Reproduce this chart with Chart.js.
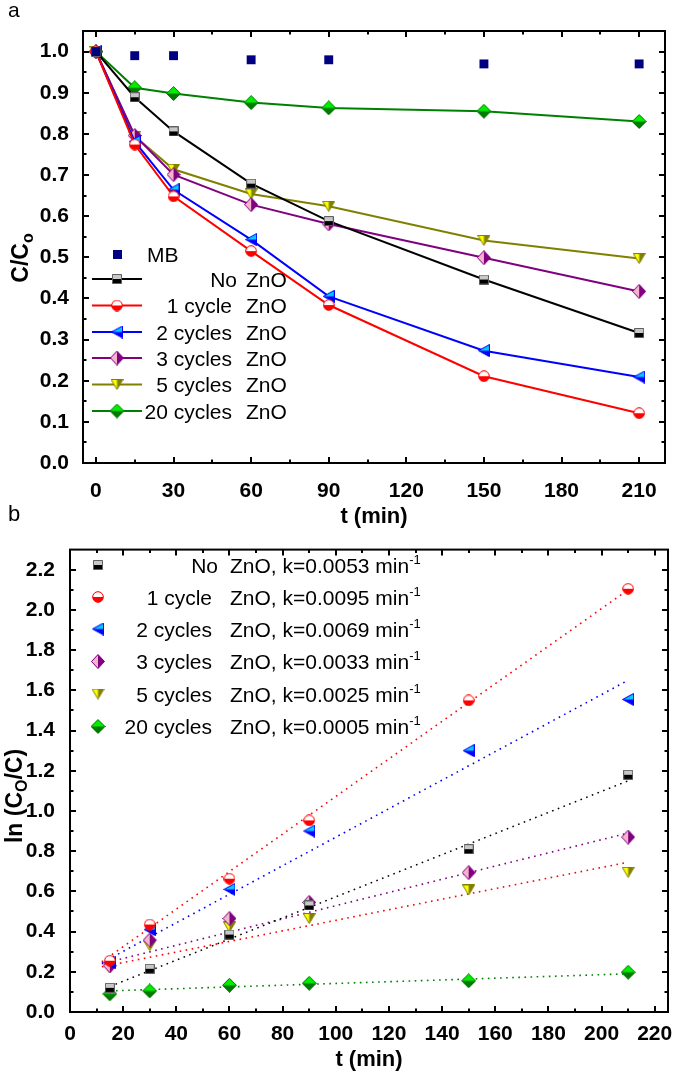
<!DOCTYPE html>
<html lang="en">
<head>
<meta charset="UTF-8">
<title>C/Co and ln(Co/C) vs time</title>
<script src="https://cdn.jsdelivr.net/npm/chart.js"></script>
<style>
  body { margin: 0; background: #fff; width: 675px; height: 1082px; position: relative; overflow: hidden; }
  canvas { position: absolute; left: 0; }
  #chartA { top: 0; }
  #chartB { top: 530px; }
  .panel { position: absolute; left: 8px; line-height: 1; font-family: "Liberation Sans", Arial, sans-serif; z-index: 2; }
</style>
</head>
<body>
<canvas id="chartA" width="675" height="530"></canvas>
<canvas id="chartB" width="675" height="552"></canvas>
<div class="panel" style="top:-1px; font-size:21px;">a</div>
<div class="panel" style="top:503px; font-size:22px;">b</div>
<script>
// ---- panel a : C/Co vs t ----
const tA = [0, 15, 30, 60, 90, 150, 210];
const mbA = [1.0, 0.99, 0.99, 0.98, 0.98, 0.97, 0.97];
const noA = [1.0, 0.889, 0.806, 0.679, 0.588, 0.446, 0.316];
const c1A = [1.0, 0.774, 0.648, 0.515, 0.384, 0.211, 0.121];
const c2A = [1.0, 0.781, 0.664, 0.543, 0.405, 0.273, 0.209];
const c3A = [1.0, 0.796, 0.701, 0.628, 0.581, 0.499, 0.417];
const c5A = [1.0, 0.794, 0.714, 0.654, 0.624, 0.541, 0.497];
const c20A = [1.0, 0.912, 0.898, 0.876, 0.863, 0.855, 0.830];
const xTicksA = [0, 30, 60, 90, 120, 150, 180, 210];
const yTicksA = [0, 0.1, 0.2, 0.3, 0.4, 0.5, 0.6, 0.7, 0.8, 0.9, 1.0];

// ---- panel b : ln(Co/C) vs t ----
const tB = [15, 30, 60, 90, 150, 210];
const noB = [0.12, 0.215, 0.385, 0.53, 0.81, 1.18];
const c1B = [0.255, 0.435, 0.663, 0.953, 1.55, 2.105];
const c2B = [0.245, 0.41, 0.61, 0.90, 1.30, 1.555];
const c3B = [0.23, 0.358, 0.465, 0.545, 0.693, 0.87];
const c5B = [0.22, 0.33, 0.423, 0.465, 0.607, 0.695];
const c20B = [0.09, 0.105, 0.133, 0.143, 0.155, 0.198];
// linear fits: start time, value at start, value at 210 min
const fitFrom = [15, 12, 12, 12, 12, 15];
const fitLo = [0.127, 0.25, 0.245, 0.24, 0.225, 0.105];
const fitHi = [1.15, 2.10, 1.65, 0.89, 0.745, 0.19];
const fitTo = 210;
const kVals = ['0.0053', '0.0095', '0.0069', '0.0033', '0.0025', '0.0005'];
const xTicksB = [0, 20, 40, 60, 80, 100, 120, 140, 160, 180, 200, 220];
const yTicksB = [0, 0.2, 0.4, 0.6, 0.8, 1.0, 1.2, 1.4, 1.6, 1.8, 2.0, 2.2];

const names = ['No', '1 cycle', '2 cycles', '3 cycles', '5 cycles', '20 cycles'];
const lineColors = ['#000000', '#ff0000', '#0000ff', '#800080', '#808000', '#008000'];
const fitColors = ['#000000', '#ff0000', '#0000ff', '#800080', '#ff0000', '#008000'];

const FONT = '"Liberation Sans", Arial, sans-serif';
Chart.defaults.font.family = FONT;
Chart.defaults.color = '#000';

function pts(xs, ys) { return xs.map((x, i) => ({ x: x, y: ys[i] })); }

// two-tone marker drawn on a small canvas, used as a pointStyle
function makeMarker(shape, w, h, light, dark, edge, split) {
    const c = document.createElement('canvas');
    c.width = w; c.height = h;
    const g = c.getContext('2d');
    const mx = w / 2, my = h / 2;
    g.beginPath();
    if (shape === 'square') g.rect(0.5, 0.5, w - 1, h - 1);
    else if (shape === 'circle') g.arc(mx, my, mx - 0.7, 0, Math.PI * 2);
    else if (shape === 'left') { g.moveTo(0.5, my); g.lineTo(w - 0.5, 0.5); g.lineTo(w - 0.5, h - 0.5); g.closePath(); }
    else if (shape === 'down') { g.moveTo(0.5, 0.5); g.lineTo(w - 0.5, 0.5); g.lineTo(mx, h - 0.5); g.closePath(); }
    else { g.moveTo(mx, 0.5); g.lineTo(w - 0.5, my); g.lineTo(mx, h - 0.5); g.lineTo(0.5, my); g.closePath(); }
    g.save();
    g.clip();
    g.fillStyle = dark;
    g.fillRect(0, 0, w, h);
    g.fillStyle = light;
    if (split === 'top') g.fillRect(0, 0, w, my); else g.fillRect(0, 0, mx, h);
    g.restore();
    g.strokeStyle = edge;
    g.lineWidth = 1;
    g.stroke();
    return c;
}

const markers = [
    makeMarker('square', 10, 10, '#c8c8c8', '#000000', '#606060', 'top'),
    makeMarker('circle', 12, 12, '#ffffff', '#ff0000', '#ff0000', 'top'),
    makeMarker('left', 12, 13, '#00ccff', '#0000ff', '#0000ff', 'top'),
    makeMarker('diamond', 14, 15, '#f4b4cc', '#800080', '#800080', 'left'),
    makeMarker('down', 13, 11, '#ffff00', '#808000', '#808000', 'left'),
    makeMarker('diamond', 15, 15, '#00ee00', '#007a00', '#007a00', 'top')
];

// frame with inward major/minor ticks on all four sides
const framePlugin = {
    id: 'frame',
    afterDatasetsDraw(chart) {
        const { ctx, chartArea: a, scales: { x, y } } = chart;
        ctx.save();
        ctx.strokeStyle = '#000';
        ctx.lineWidth = 2;
        ctx.beginPath();
        const xt = x.ticks.map(t => t.value);
        const yt = y.ticks.map(t => t.value);
        const mids = v => v.slice(1).map((t, i) => (t + v[i]) / 2);
        const tickX = (vals, len) => vals.forEach(v => {
            const p = Math.round(x.getPixelForValue(v));
            if (p <= a.left + 1 || p >= a.right - 1) return;
            ctx.moveTo(p, a.bottom); ctx.lineTo(p, a.bottom - len);
            ctx.moveTo(p, a.top); ctx.lineTo(p, a.top + len);
        });
        const tickY = (vals, len) => vals.forEach(v => {
            const p = Math.round(y.getPixelForValue(v));
            if (p <= a.top + 1 || p >= a.bottom - 1) return;
            ctx.moveTo(a.left, p); ctx.lineTo(a.left + len, p);
            ctx.moveTo(a.right, p); ctx.lineTo(a.right - len, p);
        });
        tickX(xt, 6); tickX(mids(xt), 3.5);
        tickY(yt, 6); tickY(mids(yt), 3.5);
        ctx.stroke();
        ctx.strokeRect(a.left, a.top, a.right - a.left, a.bottom - a.top);
        ctx.restore();
    }
};

function richText(ctx, parts, x, y, align) {
    let w = 0;
    parts.forEach(p => { ctx.font = `${p[3] || 'bold'} ${p[1]}px ${FONT}`; w += ctx.measureText(p[0]).width; });
    let cx = align === 'center' ? x - w / 2 : align === 'right' ? x - w : x;
    ctx.textAlign = 'left';
    ctx.textBaseline = 'alphabetic';
    parts.forEach(p => {
        ctx.font = `${p[3] || 'bold'} ${p[1]}px ${FONT}`;
        ctx.fillText(p[0], cx, y + p[2]);
        cx += ctx.measureText(p[0]).width;
    });
}

function axisTitles(ctx, chart, xGap, yParts, yLeft, yCenter) {
    const a = chart.chartArea;
    ctx.save();
    ctx.fillStyle = '#000';
    richText(ctx, [['t (min)', 22, 0]], (a.left + a.right) / 2, a.bottom + xGap, 'center');
    ctx.translate(yLeft, yCenter);
    ctx.rotate(-Math.PI / 2);
    richText(ctx, yParts, 0, 0, 'center');
    ctx.restore();
}

function scaleOpts(min, max, tickVals, fmt, size, pad) {
    return {
        type: 'linear', min: min, max: max,
        grid: { display: false },
        border: { display: false },
        afterBuildTicks: s => { s.ticks = tickVals.map(v => ({ value: v })); },
        afterFit: s => { if (s.isHorizontal()) s.height = size; else s.width = size; },
        ticks: { padding: pad, color: '#000', font: { size: 21, weight: 'bold' }, callback: fmt }
    };
}

// ---------- chart a ----------
const dsA = [{
    label: 'MB', data: pts(tA, mbA), showLine: false,
    pointStyle: 'rect', pointRadius: 6.3, backgroundColor: '#000080', borderColor: '#000080', borderWidth: 0
}];
[noA, c1A, c2A, c3A, c5A, c20A].forEach((s, i) => dsA.push({
    label: names[i] + ' ZnO', data: pts(tA, s), showLine: true,
    borderColor: lineColors[i], borderWidth: 2, pointStyle: markers[i], pointRadius: 6
}));

new Chart(document.getElementById('chartA'), {
    type: 'scatter',
    data: { datasets: dsA },
    options: {
        responsive: false,
        animation: false,
        layout: { padding: { top: 31, right: 10, left: 0, bottom: 0 } },
        plugins: { legend: { display: false }, tooltip: { enabled: false } },
        scales: {
            x: scaleOpts(-5, 220, xTicksA, v => String(v), 67, 8),
            y: scaleOpts(0, 1.05, yTicksA, v => v.toFixed(1), 83, 6)
        }
    },
    plugins: [framePlugin, {
        id: 'decorA',
        afterDraw(chart) {
            const ctx = chart.ctx;
            axisTitles(ctx, chart, 60, [['C/C', 23, 0], ['o', 16, 5]], 28, 258);
            ctx.save();
            // legend
            ctx.fillStyle = '#000080';
            ctx.fillRect(113, 250, 9, 9);
            ctx.fillStyle = '#000';
            richText(ctx, [['MB', 21, 0, 'normal']], 147, 262, 'left');
            const rows = [279, 305.5, 332, 358, 384.5, 411];
            rows.forEach((ry, i) => {
                ctx.strokeStyle = lineColors[i];
                ctx.lineWidth = 2;
                ctx.beginPath(); ctx.moveTo(92, ry); ctx.lineTo(142, ry); ctx.stroke();
                const m = markers[i];
                ctx.drawImage(m, 117 - m.width / 2, ry - m.height / 2);
                ctx.fillStyle = '#000';
                richText(ctx, [[names[i], 21, 0, 'normal']], i === 0 ? 237 : 232, ry + 7.5, 'right');
                richText(ctx, [['ZnO', 21, 0, 'normal']], 246, ry + 7.5, 'left');
            });
            ctx.restore();
        }
    }]
});

// ---------- chart b ----------
const dsB = [];
[noB, c1B, c2B, c3B, c5B, c20B].forEach((s, i) => dsB.push({
    label: names[i] + ' ZnO', data: pts(tB, s), showLine: false,
    pointStyle: markers[i], pointRadius: 6
}));
fitFrom.forEach((t0, i) => dsB.push({
    label: 'fit ' + names[i], data: [{ x: t0, y: fitLo[i] }, { x: fitTo, y: fitHi[i] }],
    showLine: true, borderColor: fitColors[i], borderWidth: 1.6, borderDash: [1.6, 4.5],
    pointRadius: 0
}));

new Chart(document.getElementById('chartB'), {
    type: 'scatter',
    data: { datasets: dsB },
    options: {
        responsive: false,
        animation: false,
        layout: { padding: { top: 13, right: 6, left: 0, bottom: 0 } },
        plugins: { legend: { display: false }, tooltip: { enabled: false } },
        scales: {
            x: scaleOpts(0, 225, xTicksB, v => String(v), 70, 2),
            y: scaleOpts(0, 2.3, yTicksB, v => v.toFixed(1), 70, 7)
        }
    },
    plugins: [framePlugin, {
        id: 'decorB',
        afterDraw(chart) {
            const ctx = chart.ctx;
            axisTitles(ctx, chart, 54, [['ln (C', 23, 0], ['O', 16, 5], ['/C)', 23, 0]], 22, 266);
            ctx.save();
            const rows = [35, 67, 99, 131.5, 164, 196.5];
            rows.forEach((ry, i) => {
                const m = markers[i];
                ctx.drawImage(m, 98 - m.width / 2, ry - m.height / 2);
                ctx.fillStyle = '#000';
                richText(ctx, [[names[i], 21, 0, 'normal']], i === 0 ? 218 : 212, ry + 7.5, 'right');
                richText(ctx, [['ZnO, k=' + kVals[i] + ' min', 21, 0, 'normal'], ['-1', 13, -9, 'normal']], 230, ry + 7.5, 'left');
            });
            ctx.restore();
        }
    }]
});
</script>
</body>
</html>
